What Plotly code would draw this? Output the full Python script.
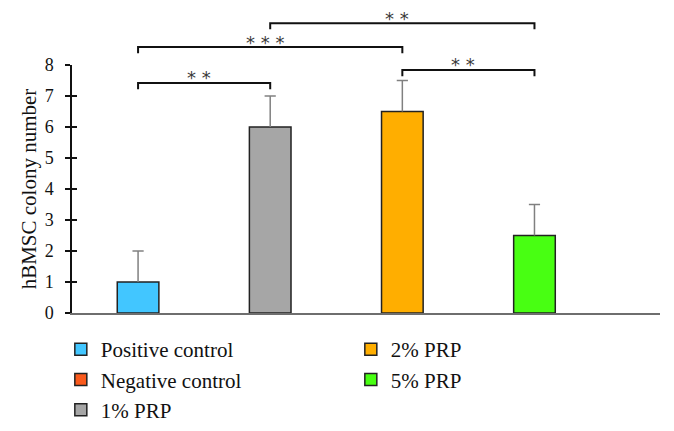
import plotly.graph_objects as go

# ---- data ----
groups = ["Positive control", "Negative control", "1% PRP", "2% PRP", "5% PRP"]
positions = [1, None, 2, 3, 4]          # bar slots along x (negative control has no bar)
values = [1.0, None, 6.0, 6.5, 2.5]
errors_up = [1.0, None, 1.0, 1.0, 1.0]
colors = ["#42C6FF", "#FA5A1C", "#A6A6A6", "#FFAE00", "#48FF12"]
legend_order = [0, 3, 1, 4, 2]          # row-major legend: two columns

# significance brackets: (from slot, to slot, level, label)
brackets = [
    (1, 2, 7.42, "* *"),
    (1, 3, 8.58, "* * *"),
    (2, 4, 9.35, "* *"),
    (3, 4, 7.84, "* *"),
]
y_ticks = [0, 1, 2, 3, 4, 5, 6, 7, 8]

X_MIN, X_MAX = 0.5, 4.95
Y_MIN, Y_MAX = 0, 8
TIP = 0.2

SERIF = "Liberation Serif, Times New Roman, serif"

fig = go.Figure()
for i in legend_order:
    x = [positions[i]] if positions[i] is not None else [None]
    y = [values[i]] if values[i] is not None else [None]
    fig.add_trace(go.Bar(
        x=x, y=y, name=groups[i], width=0.315,
        marker=dict(color=colors[i], line=dict(color="#222222", width=1.5)),
    ))

# upper-only error bars: cap marker at top, stem drawn down to the bar top
ex = [p for p, v in zip(positions, values) if v is not None]
ey = [v + e for v, e in zip(values, errors_up) if v is not None]
em = [e for v, e in zip(values, errors_up) if v is not None]
fig.add_trace(go.Scatter(
    x=ex, y=ey, mode="markers", showlegend=False, hoverinfo="skip",
    marker=dict(symbol="line-ew", size=8, color="#808080",
                line=dict(color="#808080", width=1.5)),
    error_y=dict(type="data", symmetric=False, array=[0] * len(em),
                 arrayminus=em, color="#808080", thickness=1.5, width=0),
))

# invisible helper trace for inner tick marks on the y axis
fig.add_trace(go.Scatter(x=[None], y=[None], yaxis="y2", showlegend=False,
                         hoverinfo="skip"))


def px(x):
    return (x - X_MIN) / (X_MAX - X_MIN)


def py(y):
    return (y - Y_MIN) / (Y_MAX - Y_MIN)


shapes = []
annotations = []
for a, b, lvl, lab in brackets:
    x1, x2 = px(a), px(b)
    y0, y1 = py(lvl - TIP), py(lvl)
    shapes.append(dict(type="path", xref="paper", yref="paper",
                       path=f"M{x1},{y0} L{x1},{y1} L{x2},{y1} L{x2},{y0}",
                       line=dict(color="#111111", width=2)))
    annotations.append(dict(xref="paper", yref="paper", x=(x1 + x2) / 2, y=y1,
                            text=lab, showarrow=False, xanchor="center",
                            yanchor="middle", yshift=5, xshift=-5,
                            font=dict(family="DejaVu Sans", size=18, color="#3a3a3a")))

fig.update_layout(
    width=674, height=431,
    margin=dict(l=64, r=22, t=57, b=126, autoexpand=False),
    paper_bgcolor="white", plot_bgcolor="white",
    barmode="overlay",
    font=dict(family=SERIF, color="#111111"),
    xaxis=dict(range=[X_MIN, X_MAX], showticklabels=False, ticks="",
               showgrid=False, zeroline=False, showline=True,
               linecolor="#6E6E6E", linewidth=2),
    yaxis=dict(range=[Y_MIN, Y_MAX], tickvals=y_ticks, ticks="outside",
               ticklen=5, tickwidth=1.5, tickcolor="#111111",
               ticklabelstandoff=8,
               showgrid=False, zeroline=False, showline=True,
               linecolor="#111111", linewidth=1.5,
               tickfont=dict(family=SERIF, size=18, color="#111111"),
               title=dict(text="hBMSC colony number", standoff=2,
                          font=dict(family=SERIF, size=21, color="#111111"))),
    yaxis2=dict(range=[Y_MIN, Y_MAX], tickvals=y_ticks, ticks="inside",
                ticklen=5, tickwidth=1.5, tickcolor="#111111",
                overlaying="y", side="left", showticklabels=False,
                showgrid=False, zeroline=False, showline=False),
    legend=dict(orientation="h", x=-0.019, y=-0.065, xanchor="left",
                yanchor="top", entrywidth=245, entrywidthmode="pixels",
                font=dict(family=SERIF, size=21, color="#111111"),
                bgcolor="rgba(0,0,0,0)", traceorder="normal"),
    shapes=shapes,
    annotations=annotations,
    showlegend=True,
)

fig.write_html("out.html")
